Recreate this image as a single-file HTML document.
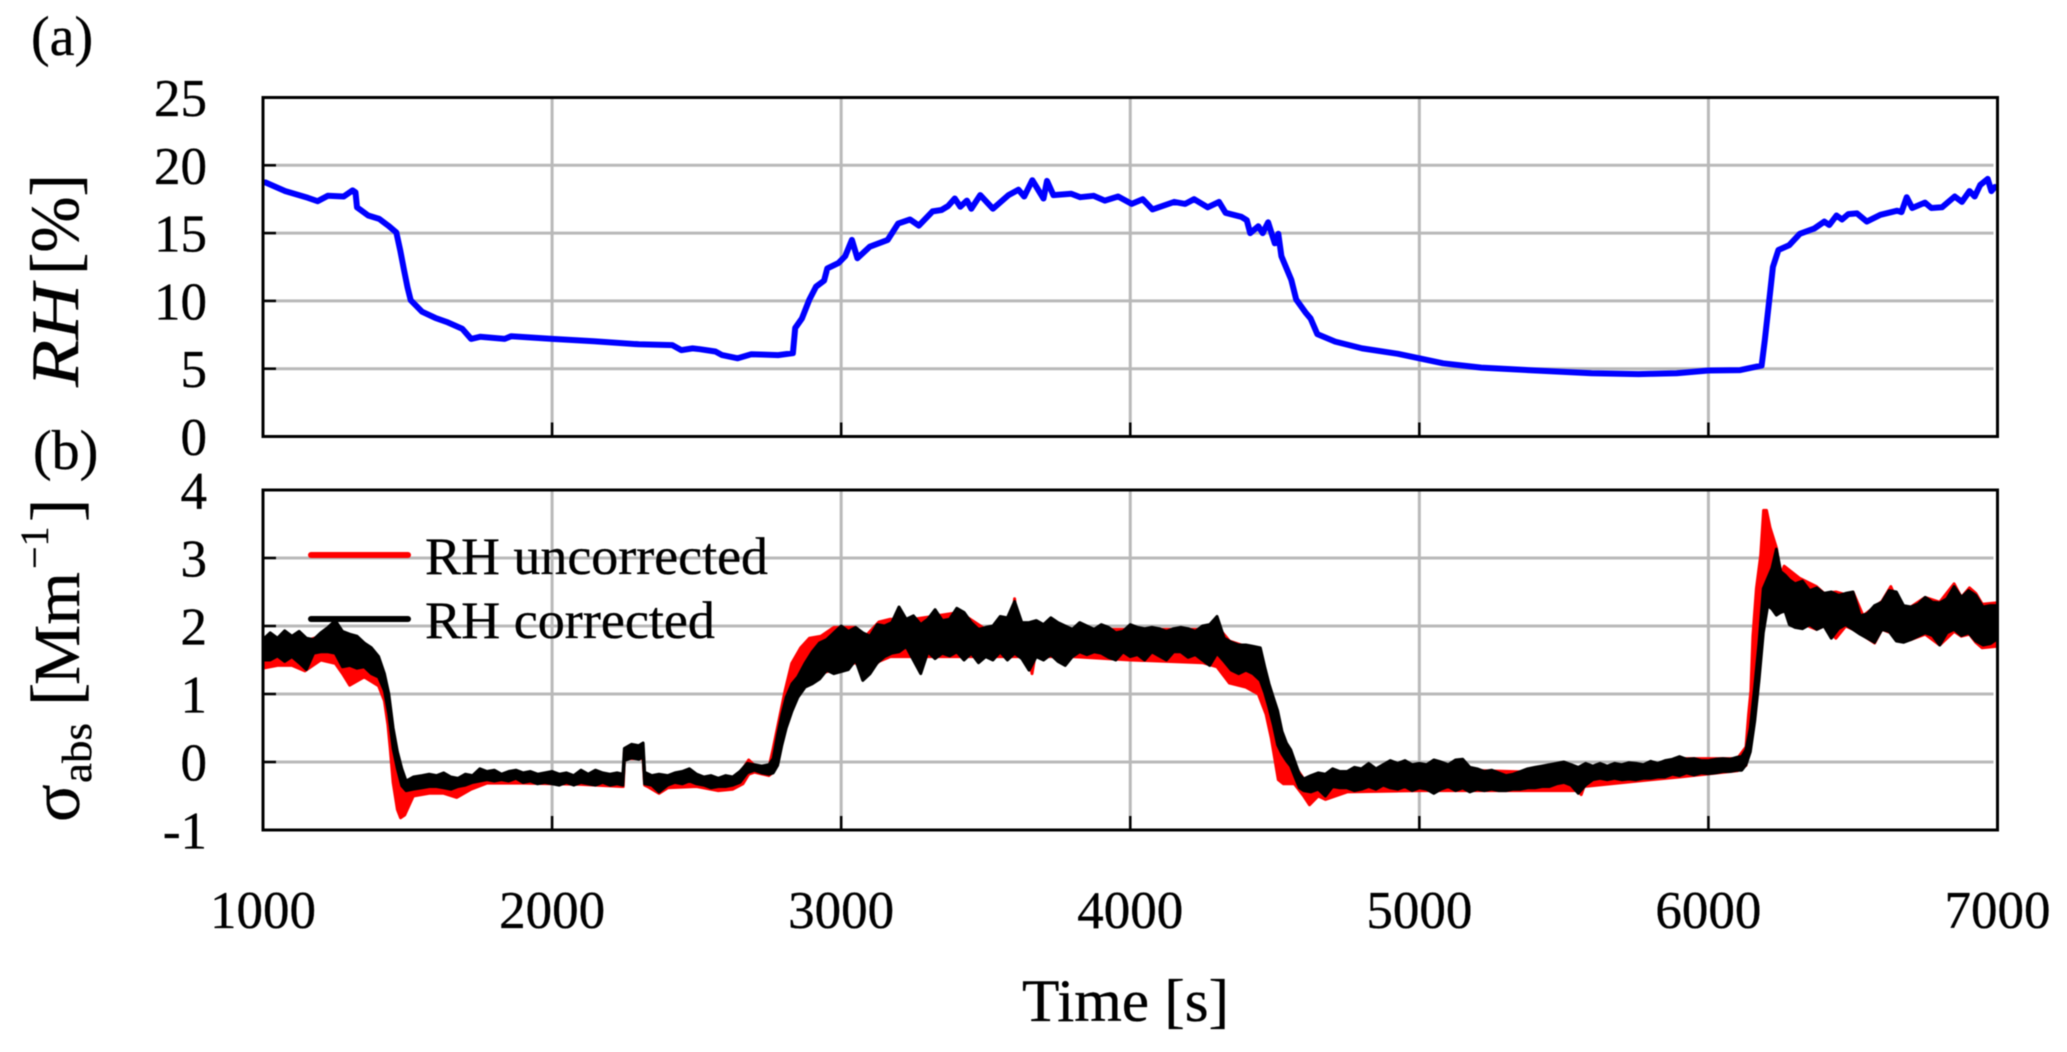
<!DOCTYPE html>
<html>
<head>
<meta charset="utf-8">
<title>RH and absorption time series</title>
<style>
html,body{margin:0;padding:0;background:#fff;width:2067px;height:1052px;overflow:hidden}
svg{display:block;filter:blur(0.5px)}
text{font-family:"Liberation Serif","DejaVu Serif",serif;fill:#000;stroke:#000;stroke-width:0.35px}
</style>
</head>
<body>
<svg id="chart" width="2067" height="1052" viewBox="0 0 2067 1052" xmlns="http://www.w3.org/2000/svg">
  <text x="31" y="55" font-size="56">(a)</text>
  <text x="33" y="469" font-size="56">(b)</text>
  <g id="gridA"></g>
  <g id="gridB"></g>
  <g id="seriesA"></g>
  <g id="seriesB"></g>
  <g id="axesA"></g>
  <g id="axesB"></g>
  <g transform="translate(78,387) rotate(-90)">
    <text x="0" y="0" font-size="68" font-style="italic" textLength="103" lengthAdjust="spacingAndGlyphs">RH</text>
    <text x="112" y="0" font-size="69" textLength="101" lengthAdjust="spacingAndGlyphs">[%]</text>
  </g>
  <g transform="translate(79,822) rotate(-90)">
    <text x="0" y="0" font-size="70">σ</text>
    <text x="39" y="12" font-size="42" textLength="60" lengthAdjust="spacingAndGlyphs">abs</text>
    <text x="116" y="0" font-size="70">[</text>
    <text x="137" y="0" font-size="66" textLength="113" lengthAdjust="spacingAndGlyphs">Mm</text>
    <text x="253" y="-31" font-size="40">−1</text>
    <text x="300" y="0" font-size="70">]</text>
  </g>
  <text x="1022" y="1021" font-size="60" textLength="207" lengthAdjust="spacingAndGlyphs">Time [s]</text>
  <g>
    <line x1="311" y1="555" x2="408" y2="555" stroke="#ff0000" stroke-width="6" stroke-linecap="round"></line>
    <text x="425" y="574" font-size="53" textLength="343" lengthAdjust="spacingAndGlyphs">RH uncorrected</text>
    <line x1="311" y1="619" x2="408" y2="619" stroke="#000000" stroke-width="6" stroke-linecap="round"></line>
    <text x="425" y="638" font-size="53" textLength="290" lengthAdjust="spacingAndGlyphs">RH corrected</text>
  </g>
</svg>
<script>
const xTicks = [1000, 2000, 3000, 4000, 5000, 6000, 7000];
const xTickLabels = ["1000", "2000", "3000", "4000", "5000", "6000", "7000"];
const rhTicks = [0, 5, 10, 15, 20, 25];
const rhTickLabels = ["0", "5", "10", "15", "20", "25"];
const absTicks = [-1, 0, 1, 2, 3, 4];
const absTickLabels = ["-1", "0", "1", "2", "3", "4"];

const rhTimes = [
1008,1077,1155,1189,1224,1279,1310,1320,1325,1364,
1402,1433,1461,1475,1488,1500,1511,1550,1596,1635,
1689,1720,1751,1836,1859,2000,2145,2300,2416,2447,
2486,2511,2565,2588,2642,2689,2782,2833,2841,2864,
2890,2913,2941,2952,2991,3014,3037,3056,3099,3161,
3197,3238,3269,3316,3347,3370,3393,3412,3435,3450,
3481,3525,3579,3613,3633,3661,3700,3712,3734,3796,
3827,3873,3912,3958,4005,4043,4077,4152,4190,4221,
4268,4307,4330,4384,4403,4415,4443,4458,4477,4500,
4512,4523,4557,4574,4608,4624,4647,4709,4802,4926,
5000,5082,5214,5376,5596,5758,5890,6000,6110,6184,
6195,6213,6223,6242,6279,6316,6367,6401,6418,6443,
6462,6484,6514,6548,6595,6653,6668,6686,6705,6749,
6771,6808,6852,6877,6903,6921,6940,6966,6979,6991
];
const rhValues = [
18.74,18.1,17.6,17.35,17.75,17.7,18.15,18.0,16.9,16.3,
16.05,15.55,15.05,13.7,12.25,11.0,10.05,9.2,8.75,8.45,
7.95,7.2,7.35,7.2,7.4,7.2,7.03,6.8,6.74,6.37,
6.5,6.44,6.27,6.0,5.77,6.07,6.0,6.14,8.0,8.7,
10.1,11.05,11.5,12.4,12.8,13.3,14.5,13.15,14.0,14.5,
15.7,16.0,15.55,16.6,16.7,17.0,17.55,16.95,17.4,16.8,
17.8,16.8,17.8,18.2,17.7,18.9,17.55,18.85,17.8,17.9,
17.65,17.75,17.4,17.7,17.15,17.5,16.75,17.3,17.15,17.5,
16.9,17.3,16.5,16.2,15.95,15.0,15.5,15.0,15.8,14.25,
14.95,13.3,11.55,10.1,9.1,8.7,7.55,7.0,6.5,6.1,
5.77,5.4,5.08,4.9,4.67,4.6,4.67,4.87,4.9,5.23,
7.1,10.55,12.5,13.75,14.1,14.95,15.35,15.85,15.6,16.3,
16.0,16.4,16.45,15.85,16.35,16.65,16.55,17.65,16.85,17.25,
16.85,16.9,17.7,17.3,18.1,17.7,18.55,19.0,18.1,18.4
];

const correctedTimes = [
1000,1025,1050,1075,1100,1125,1150,1175,1200,1225,
1250,1275,1300,1325,1350,1375,1400,1420,1435,1450,
1465,1480,1495,1520,1550,1575,1600,1625,1650,1675,
1700,1725,1750,1775,1800,1825,1850,1875,1900,1925,
1950,1975,2000,2025,2050,2075,2100,2125,2150,2175,
2200,2225,2245,2250,2275,2300,2315,2320,2345,2370,
2400,2425,2450,2475,2500,2525,2550,2575,2600,2625,
2650,2675,2700,2725,2750,2765,2780,2795,2810,2830,
2850,2875,2900,2925,2950,2975,3000,3025,3050,3075,
3100,3125,3150,3175,3200,3225,3250,3275,3300,3325,
3350,3375,3400,3425,3450,3475,3500,3525,3550,3575,
3600,3625,3650,3675,3700,3725,3750,3775,3800,3825,
3850,3875,3900,3925,3950,3975,4000,4025,4050,4075,
4100,4125,4150,4175,4200,4225,4250,4275,4300,4325,
4350,4375,4400,4425,4450,4465,4480,4495,4510,4525,
4540,4555,4570,4585,4600,4625,4650,4675,4700,4725,
4750,4775,4800,4825,4850,4875,4900,4925,4950,4975,
5000,5025,5050,5075,5100,5125,5150,5175,5200,5225,
5250,5275,5300,5325,5350,5375,5400,5425,5450,5475,
5500,5525,5550,5575,5600,5625,5650,5675,5700,5725,
5750,5775,5800,5825,5850,5875,5900,5925,5950,5975,
6000,6025,6050,6075,6100,6115,6130,6145,6160,6175,
6190,6205,6220,6235,6250,6265,6280,6300,6325,6350,
6375,6400,6425,6450,6475,6500,6525,6550,6575,6600,
6625,6650,6675,6700,6725,6750,6775,6800,6825,6850,
6875,6900,6925,6950,6975,6995
];
const correctedHigh = [
1.80,1.90,1.82,1.93,1.85,1.92,1.82,1.80,1.90,1.98,
2.08,1.92,1.88,1.85,1.75,1.68,1.55,1.30,1.00,0.50,
0.15,-0.10,-0.28,-0.22,-0.20,-0.18,-0.20,-0.16,-0.22,-0.24,
-0.18,-0.20,-0.10,-0.14,-0.12,-0.18,-0.14,-0.12,-0.16,-0.14,
-0.18,-0.16,-0.14,-0.18,-0.16,-0.20,-0.12,-0.18,-0.12,-0.16,
-0.18,-0.16,-0.18,0.20,0.26,0.24,0.28,-0.15,-0.20,-0.18,
-0.20,-0.16,-0.14,-0.10,-0.18,-0.22,-0.20,-0.24,-0.20,-0.22,
-0.14,-0.02,-0.04,-0.06,-0.04,0.05,0.40,0.70,0.95,1.15,
1.25,1.45,1.62,1.75,1.80,1.90,2.00,1.92,1.98,1.90,
1.85,2.02,2.00,2.05,2.28,2.10,2.15,2.02,2.10,2.24,
2.08,2.10,2.26,2.20,2.05,1.95,1.98,2.00,2.14,2.12,
2.36,2.05,2.05,2.08,2.02,2.12,2.05,2.00,1.95,2.05,
2.00,1.95,2.02,1.98,1.90,1.92,2.02,1.98,1.96,1.98,
1.96,1.92,1.96,1.98,1.96,1.92,2.00,2.02,2.14,1.82,
1.76,1.72,1.72,1.70,1.68,1.40,1.15,0.95,0.75,0.45,
0.28,0.18,0.00,-0.18,-0.25,-0.20,-0.16,-0.18,-0.10,-0.14,
-0.14,-0.08,-0.10,-0.02,-0.10,-0.04,0.02,-0.02,0.02,-0.04,
-0.02,-0.04,0.03,0.00,-0.04,0.03,0.04,-0.08,-0.10,-0.14,
-0.12,-0.16,-0.20,-0.18,-0.14,-0.10,-0.08,-0.06,-0.04,-0.02,
0.00,-0.04,-0.08,-0.02,-0.06,-0.02,-0.06,-0.02,-0.04,-0.01,
-0.02,-0.04,0.01,-0.02,0.02,0.04,0.08,0.04,0.05,0.02,
0.02,0.04,0.05,0.04,0.07,0.08,0.18,0.50,1.10,1.75,
2.55,2.70,2.85,3.13,2.80,2.75,2.68,2.62,2.66,2.52,
2.56,2.48,2.50,2.45,2.48,2.50,2.15,2.18,2.30,2.35,
2.52,2.50,2.30,2.28,2.32,2.42,2.35,2.34,2.40,2.58,
2.42,2.52,2.45,2.28,2.30,2.30
];
const correctedLow = [
1.50,1.50,1.56,1.48,1.55,1.46,1.36,1.60,1.62,1.62,
1.60,1.40,1.42,1.38,1.40,1.30,1.25,1.05,0.70,0.20,
-0.10,-0.35,-0.42,-0.40,-0.38,-0.36,-0.36,-0.38,-0.40,-0.36,
-0.34,-0.30,-0.28,-0.26,-0.28,-0.26,-0.28,-0.24,-0.30,-0.28,
-0.32,-0.30,-0.32,-0.34,-0.30,-0.34,-0.30,-0.32,-0.34,-0.30,
-0.34,-0.32,-0.34,0.02,0.06,0.04,0.08,-0.32,-0.34,-0.44,
-0.34,-0.30,-0.32,-0.28,-0.32,-0.34,-0.38,-0.36,-0.36,-0.34,
-0.30,-0.16,-0.12,-0.16,-0.18,-0.16,-0.05,0.25,0.50,0.75,
0.95,1.10,1.15,1.22,1.35,1.30,1.33,1.36,1.50,1.20,
1.30,1.46,1.55,1.60,1.62,1.70,1.50,1.30,1.62,1.52,
1.60,1.56,1.62,1.50,1.60,1.46,1.55,1.50,1.62,1.50,
1.60,1.52,1.35,1.55,1.50,1.58,1.48,1.42,1.55,1.62,
1.58,1.62,1.60,1.54,1.50,1.62,1.55,1.58,1.50,1.62,
1.56,1.50,1.62,1.62,1.54,1.58,1.50,1.42,1.60,1.48,
1.35,1.30,1.35,1.30,1.20,1.02,0.80,0.55,0.25,0.12,
0.02,-0.06,-0.22,-0.38,-0.42,-0.44,-0.40,-0.50,-0.36,-0.38,
-0.38,-0.42,-0.40,-0.36,-0.40,-0.34,-0.38,-0.40,-0.36,-0.42,
-0.38,-0.40,-0.46,-0.40,-0.36,-0.42,-0.38,-0.44,-0.40,-0.42,
-0.40,-0.42,-0.42,-0.40,-0.40,-0.38,-0.38,-0.36,-0.36,-0.32,
-0.30,-0.34,-0.46,-0.34,-0.26,-0.24,-0.26,-0.24,-0.26,-0.25,
-0.26,-0.24,-0.24,-0.22,-0.22,-0.18,-0.20,-0.16,-0.19,-0.16,
-0.17,-0.16,-0.14,-0.14,-0.12,-0.12,-0.04,0.15,0.60,1.20,
1.90,2.30,2.25,2.16,2.20,2.22,2.02,1.98,1.96,2.02,
1.95,2.00,1.82,1.96,2.02,1.95,1.88,1.82,1.76,1.95,
1.92,1.78,1.76,1.80,1.85,1.90,1.86,1.72,1.90,1.95,
1.86,1.90,1.78,1.72,1.74,1.80
];

const uncorrectedTimes = [
1000,1050,1100,1145,1200,1250,1275,1300,1350,1400,
1420,1432,1440,1450,1465,1476,1490,1520,1575,1625,
1670,1720,1775,1900,2100,2240,2246,2250,2315,2320,
2330,2370,2400,2500,2575,2625,2660,2680,2700,2750,
2765,2782,2806,2829,2860,2890,2930,2975,3050,3085,
3131,3170,3250,3330,3410,3500,3590,3600,3610,3650,
3660,3670,3800,4000,4250,4300,4343,4400,4443,4470,
4488,4512,4530,4568,4600,4620,4650,4675,4750,5000,
5400,5550,5560,5570,5800,5900,6100,6130,6139,6147,
6154,6166,6181,6191,6201,6213,6235,6250,6262,6316,
6374,6400,6441,6475,6500,6535,6575,6600,6631,6660,
6700,6750,6800,6850,6875,6903,6925,6947,6995
];
const uncorrectedHigh = [
1.75,1.80,1.80,1.78,1.85,2.05,1.90,1.85,1.75,1.50,
1.10,0.90,0.60,0.20,-0.20,-0.35,-0.30,-0.30,-0.28,-0.28,
-0.30,-0.22,-0.20,-0.20,-0.20,-0.22,-0.22,0.15,0.20,-0.20,
-0.20,-0.22,-0.22,-0.20,-0.26,-0.24,-0.10,0.03,-0.05,-0.08,
0.20,0.55,1.05,1.45,1.68,1.82,1.85,1.98,1.98,1.85,
2.06,2.10,2.10,2.15,2.20,1.95,1.95,2.40,1.95,1.95,
1.95,1.95,1.95,1.95,1.95,2.00,1.78,1.70,1.68,1.30,
0.90,0.40,0.00,-0.05,-0.25,-0.30,-0.22,-0.20,-0.16,-0.10,
-0.15,-0.15,-0.15,-0.15,-0.05,0.05,0.05,0.22,0.70,1.05,
1.85,2.55,3.04,3.70,3.70,3.45,3.15,2.75,2.88,2.70,
2.58,2.48,2.50,2.46,2.50,2.15,2.28,2.36,2.58,2.30,
2.28,2.42,2.35,2.62,2.42,2.56,2.48,2.32,2.34
];
const uncorrectedLow = [
1.38,1.42,1.42,1.34,1.50,1.45,1.30,1.13,1.25,1.12,
0.90,0.55,0.20,-0.30,-0.70,-0.82,-0.78,-0.50,-0.46,-0.46,
-0.52,-0.40,-0.31,-0.31,-0.33,-0.36,-0.36,0.05,0.05,-0.34,
-0.36,-0.46,-0.38,-0.36,-0.42,-0.40,-0.32,-0.18,-0.15,-0.20,
-0.15,0.10,0.50,0.85,1.15,1.25,1.30,1.36,1.46,1.30,
1.48,1.55,1.55,1.55,1.55,1.55,1.55,1.55,1.55,1.55,
1.30,1.55,1.55,1.50,1.46,1.40,1.16,1.10,1.00,0.70,
0.35,-0.26,-0.32,-0.32,-0.50,-0.63,-0.50,-0.55,-0.44,-0.42,
-0.42,-0.42,-0.48,-0.36,-0.26,-0.22,-0.13,-0.05,0.20,0.50,
0.90,1.40,2.00,2.40,2.60,2.60,2.40,2.20,2.25,2.05,
1.95,2.00,1.82,2.00,1.95,1.86,1.75,1.95,1.90,1.78,
1.80,1.88,1.72,1.92,1.85,1.88,1.76,1.68,1.70
];

const SVG_NS = "http://www.w3.org/2000/svg";
const plotLeft = 263, plotRight = 1997.5;
const panelATop = 97.5, panelABottom = 436.5;
const panelBTop = 490, panelBBottom = 830;
const xMin = 1000, xMax = 7000;

function xScale(t) { return plotLeft + (t - xMin) / (xMax - xMin) * (plotRight - plotLeft); }
function yScaleA(v) { return panelABottom - v / 25 * (panelABottom - panelATop); }
function yScaleB(v) { return panelBBottom - (v + 1) / 5 * (panelBBottom - panelBTop); }

function make(tag, attrs, parent) {
  const el = document.createElementNS(SVG_NS, tag);
  for (const k in attrs) el.setAttribute(k, attrs[k]);
  parent.appendChild(el);
  return el;
}

function drawAxes(gridGroup, axesGroup, yTicks, yLabels, yScale, top, bottom, prefix) {
  xTicks.forEach(function (t) {
    if (t === xMin || t === xMax) return;
    const gl = make("line", { x1: xScale(t), x2: xScale(t), y1: top, y2: bottom, stroke: "#b9b9b9", "stroke-width": 3 }, gridGroup);
    
    
    const tk = make("line", { x1: xScale(t), x2: xScale(t), y1: bottom - 14, y2: bottom, stroke: "#000", "stroke-width": 2.5 }, axesGroup);
    
    
  });
  yTicks.forEach(function (v, i) {
    const y = yScale(v);
    if (i > 0 && i < yTicks.length - 1) {
      const gl = make("line", { x1: plotLeft, x2: plotRight - 4, y1: y, y2: y, stroke: "#b9b9b9", "stroke-width": 3 }, gridGroup);
      
      
      const tk = make("line", { x1: plotLeft, x2: plotLeft + 13, y1: y, y2: y, stroke: "#000", "stroke-width": 2.5 }, axesGroup);
      
      
    }
    const lab = make("text", { x: 207, y: y + 18.5, "text-anchor": "end", "font-size": 53 }, axesGroup);
    
    
    lab.textContent = yLabels[i];
  });
  const frame = make("rect", { x: plotLeft, y: top, width: plotRight - plotLeft, height: bottom - top, fill: "none", stroke: "#000", "stroke-width": 3 }, axesGroup);
  
  
}

function linePath(times, values, yScale) {
  return times.map(function (t, i) {
    return (i ? "L" : "M") + xScale(t).toFixed(1) + " " + yScale(values[i]).toFixed(1);
  }).join("");
}

function bandPath(times, high, low, yScale) {
  let d = linePath(times, high, yScale);
  for (let i = times.length - 1; i >= 0; i--) {
    d += "L" + xScale(times[i]).toFixed(1) + " " + yScale(low[i]).toFixed(1);
  }
  return d + "Z";
}

const gridA = document.getElementById("gridA");
const gridB = document.getElementById("gridB");
const axesA = document.getElementById("axesA");
const axesB = document.getElementById("axesB");
const seriesA = document.getElementById("seriesA");
const seriesB = document.getElementById("seriesB");

drawAxes(gridA, axesA, rhTicks, rhTickLabels, yScaleA, panelATop, panelABottom, "panel-a");
drawAxes(gridB, axesB, absTicks, absTickLabels, yScaleB, panelBTop, panelBBottom, "panel-b");

xTicks.forEach(function (t, i) {
  const lab = make("text", { x: xScale(t), y: 928, "text-anchor": "middle", "font-size": 53 }, axesB);
  
  
  lab.textContent = xTickLabels[i];
});

const rhLine = make("path", { d: linePath(rhTimes, rhValues, yScaleA), fill: "none", stroke: "#0000ff", "stroke-width": 6, "stroke-linejoin": "round", "stroke-linecap": "round" }, seriesA);



const redBand = make("path", { d: bandPath(uncorrectedTimes, uncorrectedHigh, uncorrectedLow, yScaleB), fill: "#ff0000", stroke: "#ff0000", "stroke-width": 3, "stroke-linejoin": "round" }, seriesB);



const blackBand = make("path", { d: bandPath(correctedTimes, correctedHigh, correctedLow, yScaleB), fill: "#000000", stroke: "#000000", "stroke-width": 3, "stroke-linejoin": "round" }, seriesB);


</script>
</body>
</html>
